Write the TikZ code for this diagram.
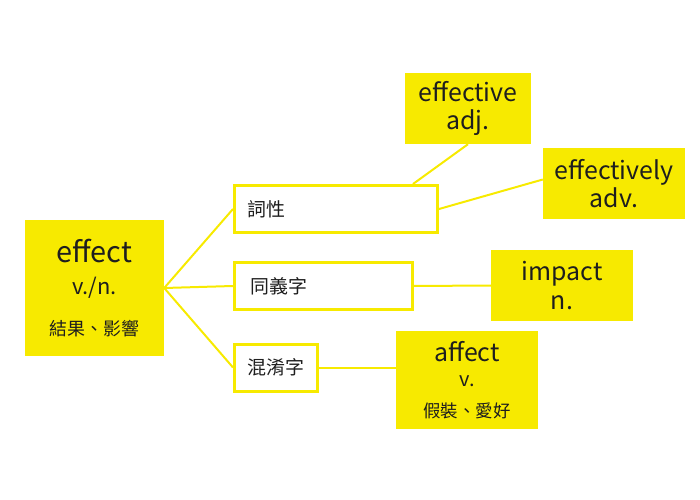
\documentclass[tikz,border=0pt]{standalone}
\usepackage{fontspec}
\setmainfont{Noto Sans CJK TC}
\usepackage{tikz}
\definecolor{hiyellow}{RGB}{247,234,0}
\definecolor{inkgray}{RGB}{30,30,30}
\tikzstyle{wordbox} = [rectangle, fill=hiyellow, text=inkgray, align=center, inner sep=0pt, font=\fontsize{25}{28}\selectfont]
\tikzstyle{groupbox} = [rectangle, draw=hiyellow, line width=3bp, fill=white, text=inkgray, minimum height=47bp, inner ysep=0pt, font=\fontsize{19}{22}\selectfont]
\tikzstyle{link} = [draw=hiyellow, line width=2bp]

\begin{document}
\begin{tikzpicture}[x=1bp, y=-1bp]
\useasboundingbox (0,0) rectangle (700,500);
\node (effect) [wordbox, minimum width=139bp, minimum height=136bp, font=\fontsize{29}{32}\selectfont] at (94.5,288) {effect\\ \fontsize{22}{32}\selectfont v./n.\\[9bp] \fontsize{18}{22}\selectfont 結果、影響};
\node (cixing) [groupbox, minimum width=203bp, text width=177bp, inner xsep=13bp, align=left] at (336,209) {詞性};
\node (synonym) [groupbox, minimum width=178bp, text width=146bp, inner xsep=16bp, align=left] at (323.5,286) {同義字};
\node (confuse) [groupbox, minimum width=83bp] at (276,367.5) {混淆字};
\node (effective) [wordbox, minimum width=126bp, minimum height=71bp] at (468,108.5) {effective\\ adj.};
\node (effectively) [wordbox, minimum width=142bp, minimum height=71bp] at (614,183.5) {effectively\\ adv.};
\node (impact) [wordbox, minimum width=142bp, minimum height=71bp, font=\fontsize{25}{30}\selectfont] at (562,285.5) {impact\\ n.};
\node (affect) [wordbox, minimum width=142bp, minimum height=98bp, font=\fontsize{25}{25}\selectfont] at (467,380) {affect\\ \fontsize{20}{25}\selectfont v.\\[6bp] \fontsize{17.5}{22}\selectfont 假裝、愛好};

\draw [link] (effect.east) -- (cixing.west);
\draw [link] (effect.east) -- (synonym.west);
\draw [link] (effect.east) -- (confuse.west);
\draw [link] ([xshift=-26bp]cixing.north east) -- (effective.south);
\draw [link] (cixing.east) -- ([yshift=4bp]effectively.west);
\draw [link] (synonym.east) -- (impact.west);
\draw [link] (confuse.east) -- (confuse.east -| affect.west);
\end{tikzpicture}
\end{document}
